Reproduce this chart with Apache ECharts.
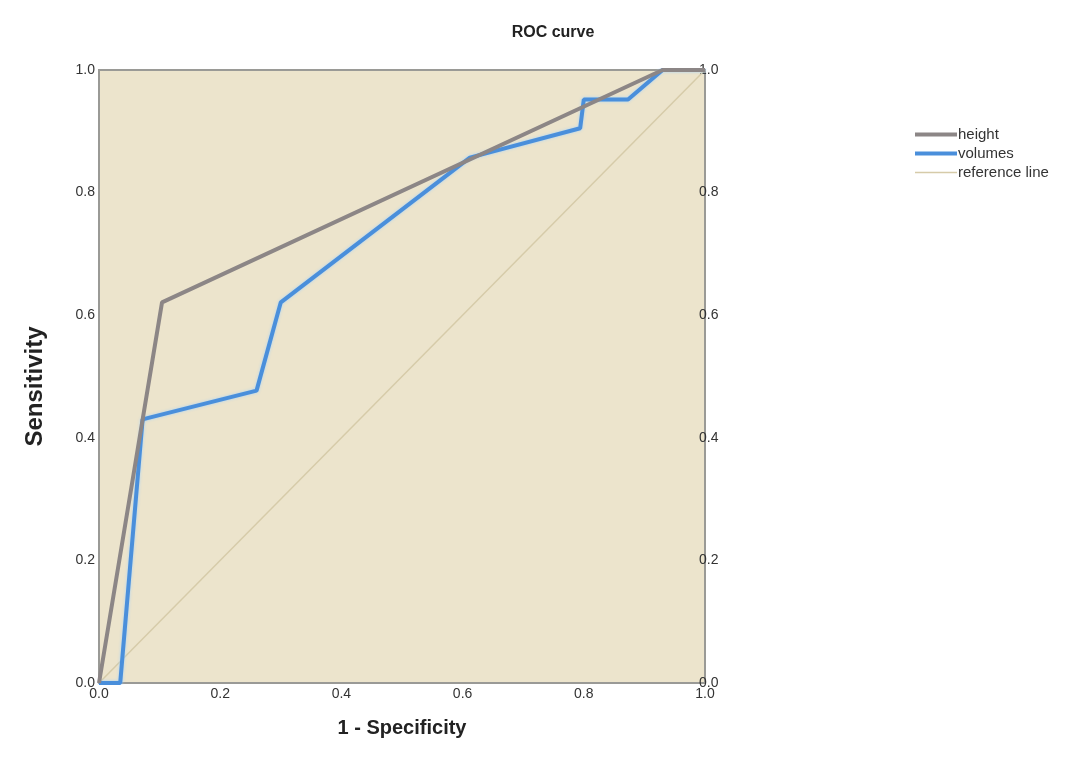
<!DOCTYPE html>
<html>
<head>
<meta charset="utf-8">
<script src="https://cdn.jsdelivr.net/npm/echarts@6/dist/echarts.min.js"></script>
<style>
  html, body { margin: 0; padding: 0; background: #fff; }
  #roc { width: 1092px; height: 766px; }
</style>
</head>
<body>
<div id="roc"></div>
<script>
// points: [1 - specificity, sensitivity]
var heightPts = [[0, 0], [0.104, 0.621], [0.93, 1.0], [1, 1]];
var volumesPts = [[0, 0], [0.035, 0], [0.072, 0.43], [0.08, 0.432], [0.26, 0.477], [0.30, 0.621],
  [0.612, 0.857], [0.794, 0.905], [0.80, 0.952], [0.873, 0.952], [0.93, 1.0], [1, 1]];
var refPts = [[0, 0], [1, 1]];
var tickLabels = ['0.0', '0.2', '0.4', '0.6', '0.8', '1.0'];

var chartDom = document.getElementById('roc');
var myChart = echarts.init(chartDom);
var option;

function tickFmt(v) {
  return tickLabels[Math.round(v / 0.2)];
}

// legend keys drawn as plain bars (thick for the curves, thin for the reference)
var thickBar = 'path://M0,0L0,0Z M0,4H42V8H0Z M0,12L0,12Z';
var thinBar = 'path://M0,0L0,0Z M0,5.3H42V6.7H0Z M0,12L0,12Z';

var yBase = {
  type: 'value',
  min: 0,
  max: 1,
  interval: 0.2,
  splitLine: { show: false },
  axisTick: { show: false },
  axisLine: { show: true, lineStyle: { color: '#9a9a96', width: 2 } },
  axisLabel: { formatter: tickFmt, color: '#333', fontSize: 14, fontFamily: 'Liberation Sans' }
};

option = {
  backgroundColor: '#fff',
  animation: false,
  title: {
    text: 'ROC curve',
    left: 548,
    top: 20,
    textAlign: 'center',
    textStyle: { fontSize: 16, fontWeight: 'bold', color: '#222', fontFamily: 'Liberation Sans' }
  },
  legend: {
    orient: 'vertical',
    left: 910,
    top: 122,
    itemWidth: 42,
    itemHeight: 12,
    itemGap: 4,
    symbolKeepAspect: false,
    textStyle: { fontSize: 15, color: '#333', padding: [0, 0, 0, -4], fontFamily: 'Liberation Sans' },
    data: [
      { name: 'height', icon: thickBar },
      { name: 'volumes', icon: thickBar },
      { name: 'reference line', icon: thinBar }
    ]
  },
  grid: {
    left: 99,
    right: 387,
    top: 70,
    bottom: 83,
    show: true,
    backgroundColor: '#ece4cc',
    borderColor: '#9a9a96',
    borderWidth: 2
  },
  xAxis: {
    type: 'value',
    min: 0,
    max: 1,
    interval: 0.2,
    name: '1 - Specificity',
    nameLocation: 'middle',
    nameGap: 35,
    nameTextStyle: { fontSize: 20, fontWeight: 'bold', color: '#222', fontFamily: 'Liberation Sans' },
    splitLine: { show: false },
    axisTick: { show: false },
    axisLine: { show: true, lineStyle: { color: '#9a9a96', width: 2 } },
    axisLabel: { formatter: tickFmt, color: '#333', fontSize: 14, margin: 4, fontFamily: 'Liberation Sans' }
  },
  yAxis: [
    Object.assign({}, yBase, {
      position: 'left',
      name: 'Sensitivity',
      nameLocation: 'middle',
      nameGap: 52,
      nameTextStyle: { fontSize: 24, fontWeight: 'bold', color: '#222', fontFamily: 'Liberation Sans', padding: [0, 20, 0, 0] },
      axisLabel: Object.assign({}, yBase.axisLabel, { margin: 4 })
    }),
    Object.assign({}, yBase, {
      position: 'right',
      axisLabel: Object.assign({}, yBase.axisLabel, { margin: -6 })
    })
  ],
  series: [
    {
      name: 'reference line',
      type: 'line',
      data: refPts,
      symbol: 'none',
      color: '#d6cba9',
      lineStyle: { width: 1.5, color: '#d6cba9' },
      z: 1
    },
    {
      name: 'volumes',
      type: 'line',
      data: volumesPts,
      symbol: 'none',
      color: '#4a8fdb',
      lineStyle: { width: 4, color: '#4a8fdb', shadowColor: 'rgba(160,210,255,0.9)', shadowBlur: 3 },
      z: 2
    },
    {
      name: 'height',
      type: 'line',
      data: heightPts,
      symbol: 'none',
      color: '#8c8686',
      lineStyle: { width: 4, color: '#8c8686' },
      z: 3
    }
  ]
};

option && myChart.setOption(option);
</script>
</body>
</html>
